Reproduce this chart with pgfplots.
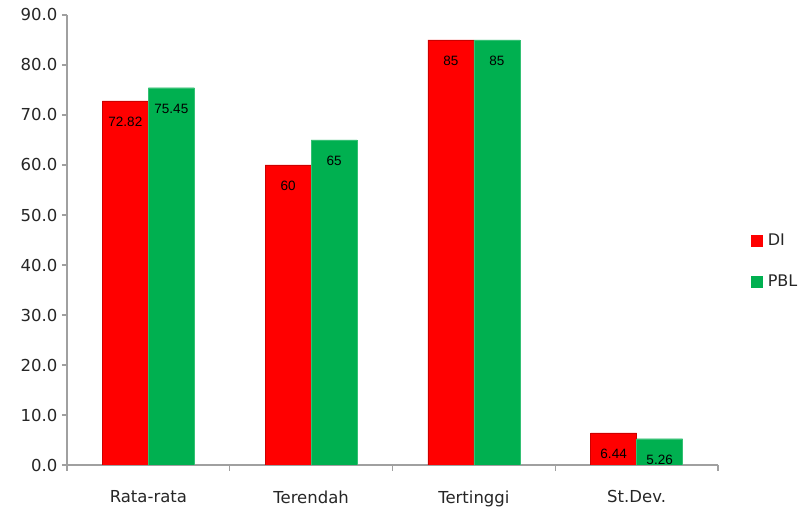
\documentclass[border=0pt]{standalone}
\usepackage{pgfplots}
\pgfplotsset{compat=1.18}
\usepackage{fontspec}
\setmainfont{DejaVu Sans}
\newfontfamily\labelfont{Liberation Sans}
\definecolor{barred}{HTML}{FF0000}
\definecolor{bargreen}{HTML}{00B050}
\definecolor{axisgray}{HTML}{A0A0A0}
\begin{document}
\begin{tikzpicture}
\path[use as bounding box] (-67pt,-45pt) rectangle (732pt,465pt);
\begin{axis}[
  scale only axis,
  width=651pt, height=450pt,
  ybar=0pt, bar width=46pt,
  xmin=-0.5, xmax=3.5,
  ymin=0, ymax=90,
  ytick={0,10,...,90},
  xtick={0,1,2,3},
  xticklabels={Rata-rata,Terendah,Tertinggi,St.Dev.},
  minor xtick={-0.5,0.5,1.5,2.5,3.5},
  major x tick style={draw=none},
  tick align=outside,
  major tick length=5pt,
  minor tick length=6pt,
  axis x line*=bottom,
  axis y line*=left,
  axis line style={draw=axisgray, line width=1.2pt, -},
  every tick/.style={draw=axisgray, line width=1.2pt},
  tick style={draw=axisgray, line width=1.2pt},
  /pgf/number format/assume math mode=true,
  ticklabel style={font=\fontsize{16.5}{19}\selectfont, text=black!85},
  yticklabel style={xshift=-1pt, /pgf/number format/.cd, fixed, fixed zerofill, precision=1},
  xticklabel style={yshift=-17pt},
  nodes near coords={\pgfmathprintnumber[assume math mode=true]{\pgfplotspointmeta}},
  every node near coord/.append style={font=\labelfont\fontsize{13.5}{15}\selectfont, anchor=north, yshift=-16pt, inner sep=0pt},
  legend style={at={(1.045,0.453)}, anchor=west, draw=none, fill=none,
    font=\fontsize{16}{19}\selectfont, row sep=24pt, text=black!85},
  legend cell align=left,
]
\addplot[fill=barred, draw=barred!80!black, line width=0.3pt,
  legend image code/.code={\fill[barred] (0pt,-5.5pt) rectangle (11pt,5.5pt); \path (15pt,0pt);}]
  coordinates {(0,72.82) (1,60) (2,85) (3,6.44)};
\addplot[fill=bargreen, draw=bargreen!80!white, line width=0.3pt,
  legend image code/.code={\fill[bargreen] (0pt,-5.5pt) rectangle (11pt,5.5pt); \path (15pt,0pt);}]
  coordinates {(0,75.45) (1,65) (2,85) (3,5.26)};
\legend{DI,PBL}
\end{axis}
\end{tikzpicture}
\end{document}
